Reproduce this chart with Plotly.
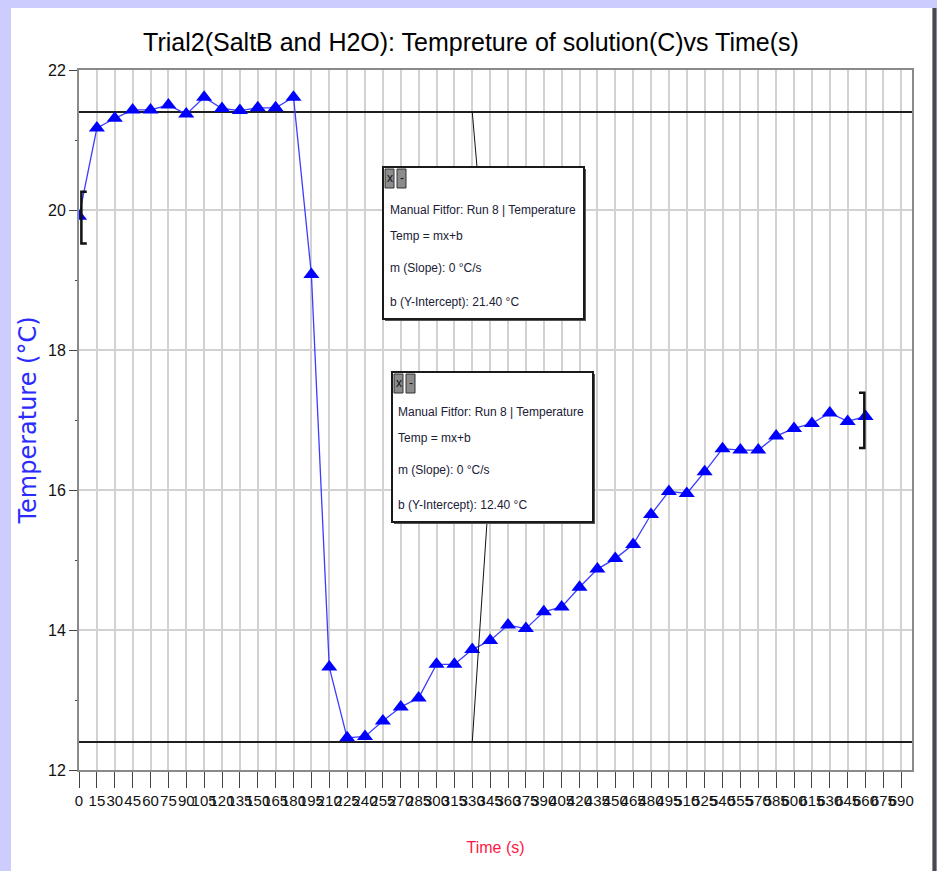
import plotly.graph_objects as go

# ---------------- data ----------------
time_s = [0, 15, 30, 45, 60, 75, 90, 105, 120, 135, 150, 165, 180, 195, 210, 225,
          240, 255, 270, 285, 300, 315, 330, 345, 360, 375, 390, 405, 420, 435,
          450, 465, 480, 495, 510, 525, 540, 555, 570, 585, 600, 615, 630, 645, 660]
temperature_c = [19.91, 21.17, 21.31, 21.43, 21.43, 21.50, 21.37, 21.61, 21.45, 21.42,
                 21.46, 21.46, 21.61, 19.08, 13.47, 12.46, 12.48, 12.70, 12.90, 13.03,
                 13.51, 13.51, 13.72, 13.85, 14.07, 14.02, 14.26, 14.33, 14.61, 14.87,
                 15.02, 15.22, 15.65, 15.98, 15.95, 16.26, 16.59, 16.57, 16.57, 16.77,
                 16.88, 16.95, 17.10, 16.98, 17.05]

# manual fits (Temp = m*x + b)
fit_slopes = [0.0, 0.0]
fit_intercepts = [21.40, 12.40]
fit_anchor_time = [330, 330]

# selection brackets (start / end of selected range)
bracket_time = [0, 660]
bracket_low = [19.52, 16.60]
bracket_high = [20.26, 17.39]

y_tick_values = [12, 14, 16, 18, 20, 22]

title_text = "Trial2(SaltB and H2O): Tempreture of solution(C)vs Time(s)"
box_lines = [
    ["Manual Fitfor: Run 8 | Temperature", "Temp = mx+b", "m (Slope): 0 °C/s",
     "b (Y-Intercept): 21.40 °C"],
    ["Manual Fitfor: Run 8 | Temperature", "Temp = mx+b", "m (Slope): 0 °C/s",
     "b (Y-Intercept): 12.40 °C"],
]

# ---------------- layout constants ----------------
W, H = 937, 871
PL, PR, PT, PB = 79, 912, 70, 770          # plot area in pixels
X_RANGE = [0, 699]
Y_RANGE = [12, 22]
NARROW = "Liberation Sans, Arial, sans-serif"
WIDE = "DejaVu Sans, Verdana, sans-serif"


def px_x(px):
    return (px - PL) / (PR - PL)


def px_y(py):
    return (PB - py) / (PB - PT)


def px_to_dx(px):
    return X_RANGE[0] + px_x(px) * (X_RANGE[1] - X_RANGE[0])


def py_to_dy(py):
    return Y_RANGE[0] + px_y(py) * (Y_RANGE[1] - Y_RANGE[0])


fig = go.Figure()

# fit lines
for m, b in zip(fit_slopes, fit_intercepts):
    fig.add_trace(go.Scatter(
        x=X_RANGE, y=[b + m * X_RANGE[0], b + m * X_RANGE[1]],
        mode="lines", line=dict(color="#1e1e1e", width=2), hoverinfo="skip",
        showlegend=False))

# data
fig.add_trace(go.Scatter(
    x=time_s, y=temperature_c, mode="lines+markers",
    line=dict(color="#3c3cff", width=1.3),
    marker=dict(symbol="triangle-up", size=14, color="#0000ff"),
    showlegend=False, name="Temperature"))

# brackets
stub = 4.5  # seconds
for i, (t, lo, hi) in enumerate(zip(bracket_time, bracket_low, bracket_high)):
    d = stub if i == 0 else -stub
    xv = t + (2 if i == 0 else -1)
    fig.add_trace(go.Scatter(
        x=[xv + d, xv, xv, xv + d], y=[hi, hi, lo, lo], mode="lines",
        line=dict(color="#111111", width=2.5), hoverinfo="skip", showlegend=False))

shapes = []
annotations = []

# white panel with lavender frame
shapes.append(dict(type="rect", xref="paper", yref="paper", layer="below",
                   x0=px_x(11), x1=px_x(932), y0=px_y(871), y1=px_y(8),
                   fillcolor="white", line=dict(width=0)))
shapes.append(dict(type="line", xref="paper", yref="paper", layer="below",
                   x0=px_x(934.5), x1=px_x(934.5), y0=px_y(871), y1=px_y(8),
                   line=dict(color="#4a4a4a", width=4)))

# fit boxes (pixel placement)
boxes = [dict(x0=383, x1=584, y0=167, y1=319, text_x=388, text_y=[210, 236, 268, 302],
              attach=(477, 167)),
         dict(x0=392, x1=593, y0=372, y1=522, text_x=396, text_y=[412, 438, 470, 505],
              attach=(487, 522))]

for k, bx in enumerate(boxes):
    # connector from fit line to box
    shapes.append(dict(type="line", xref="x", yref="y",
                       x0=fit_anchor_time[k],
                       y0=fit_intercepts[k] + fit_slopes[k] * fit_anchor_time[k],
                       x1=px_to_dx(bx["attach"][0]), y1=py_to_dy(bx["attach"][1]),
                       line=dict(color="#111111", width=1)))
    shapes.append(dict(type="rect", xref="paper", yref="paper",
                       x0=px_x(bx["x0"] + 2), x1=px_x(bx["x1"] + 2),
                       y0=px_y(bx["y1"] + 2), y1=px_y(bx["y0"] + 2),
                       fillcolor="#555555", line=dict(width=0)))
    shapes.append(dict(type="rect", xref="paper", yref="paper",
                       x0=px_x(bx["x0"]), x1=px_x(bx["x1"]),
                       y0=px_y(bx["y1"]), y1=px_y(bx["y0"]),
                       fillcolor="white", line=dict(color="#1a1a1a", width=2)))
    # window buttons
    for j, sym in enumerate(["x", "-"]):
        bx0 = bx["x0"] + 2 + j * 12
        shapes.append(dict(type="rect", xref="paper", yref="paper",
                           x0=px_x(bx0), x1=px_x(bx0 + 9),
                           y0=px_y(bx["y0"] + 21), y1=px_y(bx["y0"] + 2),
                           fillcolor="#8c8c8c", line=dict(color="#333333", width=1)))
        annotations.append(dict(xref="paper", yref="paper", x=px_x(bx0 + 4.5),
                                y=px_y(bx["y0"] + 11), text=sym, showarrow=False,
                                xanchor="center", yanchor="middle",
                                font=dict(family=NARROW, size=12, color="#111111")))
    for line_text, ty in zip(box_lines[k], bx["text_y"]):
        annotations.append(dict(xref="paper", yref="paper", x=px_x(bx["text_x"]),
                                y=px_y(ty), text=line_text, showarrow=False,
                                xanchor="left", yanchor="middle",
                                font=dict(family=NARROW, size=12, color="#202035")))

fig.update_layout(
    width=W, height=H, autosize=False,
    margin=dict(l=PL, r=W - PR, t=PT, b=H - PB, pad=0),
    paper_bgcolor="#ccccff", plot_bgcolor="white",
    title=dict(text=title_text, x=471 / W, xref="container", xanchor="center",
               y=1 - 42 / H, yref="container", yanchor="middle",
               font=dict(family=NARROW, size=25, color="#000000")),
    shapes=shapes, annotations=annotations,
    xaxis=dict(range=X_RANGE, tickmode="linear", tick0=0, dtick=15, tickangle=0,
               ticks="outside", ticklen=16, tickcolor="#444444", tickwidth=1,
               showgrid=True, gridcolor="#d2d2d2", gridwidth=1.5, zeroline=False,
               showline=True, linecolor="#8a8a8a", linewidth=2, mirror=True,
               tickfont=dict(family=NARROW, size=15, color="#111111"),
               title=dict(text="Time (s)", standoff=34,
                          font=dict(family=NARROW, size=16, color="#ff1744"))),
    yaxis=dict(range=Y_RANGE, tickmode="array", tickvals=y_tick_values,
               ticks="outside", ticklen=8, tickcolor="#444444", tickwidth=1,
               minor=dict(dtick=1, ticks="outside", ticklen=2, tickcolor="#444444",
                          showgrid=False),
               showgrid=True, gridcolor="#d2d2d2", gridwidth=1.5, zeroline=False,
               showline=True, linecolor="#8a8a8a", linewidth=2, mirror=True,
               tickfont=dict(family=NARROW, size=16, color="#111111"),
               title=dict(text="Temperature (°C)", standoff=5,
                          font=dict(family=WIDE, size=24, color="#2b2bff"))),
)

fig.write_html("out.html")
